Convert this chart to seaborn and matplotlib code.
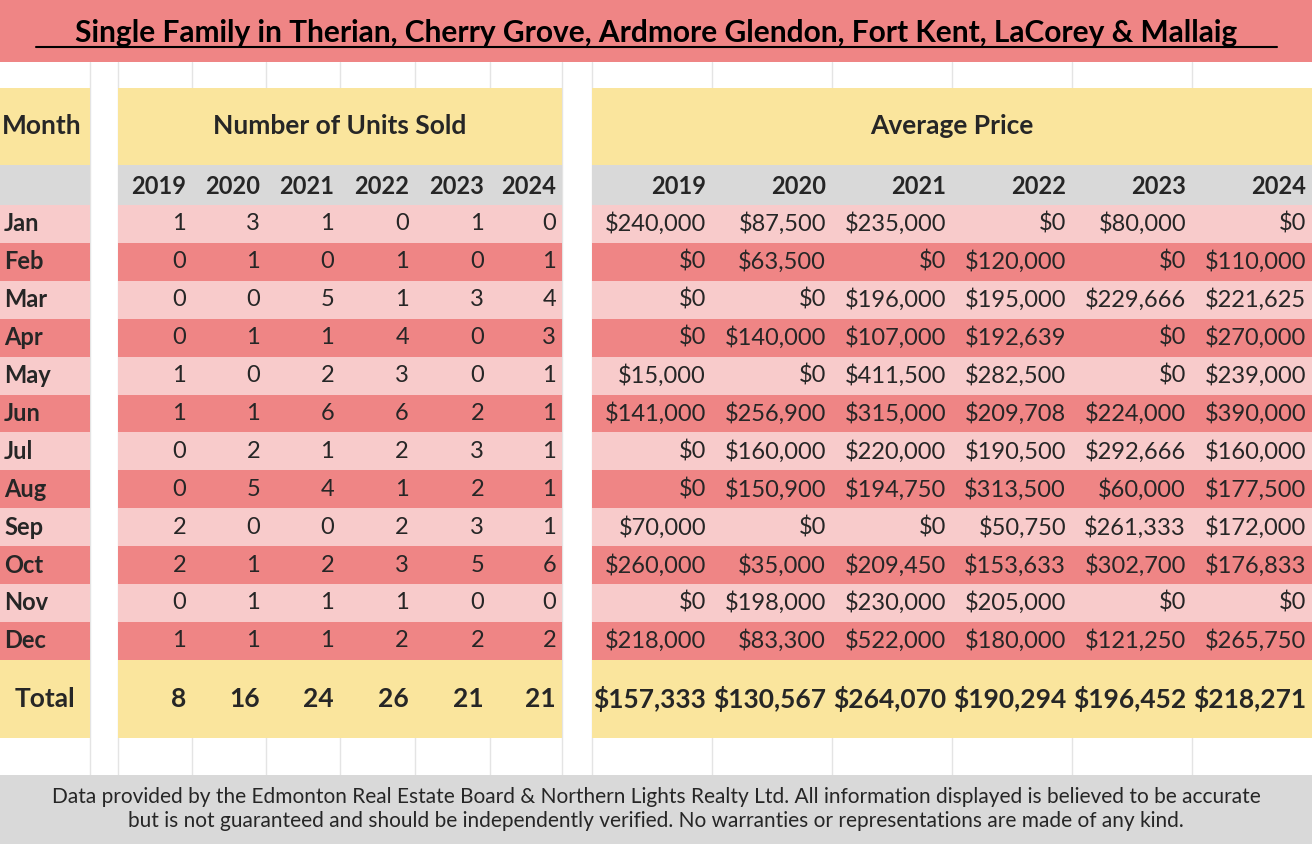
import matplotlib
matplotlib.use("Agg")
import matplotlib.pyplot as plt
from matplotlib.patches import Rectangle
import seaborn as sns

TITLE = "Single Family in Therian, Cherry Grove, Ardmore Glendon, Fort Kent, LaCorey & Mallaig"
MONTHS = ["Jan", "Feb", "Mar", "Apr", "May", "Jun", "Jul", "Aug", "Sep", "Oct", "Nov", "Dec"]
YEARS = ["2019", "2020", "2021", "2022", "2023", "2024"]
UNITS = [
    [1, 3, 1, 0, 1, 0],
    [0, 1, 0, 1, 0, 1],
    [0, 0, 5, 1, 3, 4],
    [0, 1, 1, 4, 0, 3],
    [1, 0, 2, 3, 0, 1],
    [1, 1, 6, 6, 2, 1],
    [0, 2, 1, 2, 3, 1],
    [0, 5, 4, 1, 2, 1],
    [2, 0, 0, 2, 3, 1],
    [2, 1, 2, 3, 5, 6],
    [0, 1, 1, 1, 0, 0],
    [1, 1, 1, 2, 2, 2],
]
PRICES = [
    [240000, 87500, 235000, 0, 80000, 0],
    [0, 63500, 0, 120000, 0, 110000],
    [0, 0, 196000, 195000, 229666, 221625],
    [0, 140000, 107000, 192639, 0, 270000],
    [15000, 0, 411500, 282500, 0, 239000],
    [141000, 256900, 315000, 209708, 224000, 390000],
    [0, 160000, 220000, 190500, 292666, 160000],
    [0, 150900, 194750, 313500, 60000, 177500],
    [70000, 0, 0, 50750, 261333, 172000],
    [260000, 35000, 209450, 153633, 302700, 176833],
    [0, 198000, 230000, 205000, 0, 0],
    [218000, 83300, 522000, 180000, 121250, 265750],
]
TOTAL_UNITS = [8, 16, 24, 26, 21, 21]
TOTAL_PRICES = [157333, 130567, 264070, 190294, 196452, 218271]
FOOTER = ("Data provided by the Edmonton Real Estate Board & Northern Lights Realty Ltd. All information displayed is believed to be accurate\n"
          "but is not guaranteed and should be independently verified. No warranties or representations are made of any kind.")

SALMON = "#EF8585"
PINK = "#F8CBCB"
YELLOW = "#FAE59D"
GRAY = "#D9D9D9"

sns.set_theme(style="white")
plt.rcParams["font.family"] = ["Lato", "DejaVu Sans"]

fig = plt.figure(figsize=(13.12, 8.44), dpi=100)
ax = fig.add_axes([0, 0, 1, 1])
ax.set_xlim(0, 1312)
ax.set_ylim(844, 0)
ax.axis("off")


def box(x0, y0, x1, y1, color):
    ax.add_patch(Rectangle((x0, y0), x1 - x0, y1 - y0, facecolor=color, edgecolor="none"))


unit_edges = [118, 192, 266, 340, 415, 490, 562]
price_edges = [592, 712, 832, 952, 1072, 1192, 1312]

# faint grid lines in the white gaps
for x in [90, 118] + unit_edges[1:] + price_edges[:-1]:
    ax.plot([x, x], [62, 775], color="#E4E4E4", lw=1, zorder=0)

box(0, 0, 1312, 62, SALMON)
ax.text(656, 33, TITLE, ha="center", va="center", fontsize=21.5, fontweight="bold", color="black")
ax.plot([36, 1277], [47, 47], color="black", lw=1.5)

row_top, row_h = 205, 37.9
for block in [(0, 90), (118, 562), (592, 1312)]:
    box(block[0], 88, block[1], 165, YELLOW)
    box(block[0], 165, block[1], 205, GRAY)
    for i in range(12):
        y0 = row_top + i * row_h
        box(block[0], y0, block[1], y0 + row_h, PINK if i % 2 == 0 else SALMON)
    box(block[0], 660, block[1], 738, YELLOW)
box(0, 775, 1312, 844, GRAY)

ax.text(2, 126, "Month", ha="left", va="center", fontsize=19, fontweight="bold")
ax.text(340, 126, "Number of Units Sold", ha="center", va="center", fontsize=19, fontweight="bold")
ax.text(952, 126, "Average Price", ha="center", va="center", fontsize=19, fontweight="bold")

for j, yr in enumerate(YEARS):
    ax.text(unit_edges[j + 1] - 6, 186, yr, ha="right", va="center", fontsize=17, fontweight="bold")
    ax.text(price_edges[j + 1] - 6, 186, yr, ha="right", va="center", fontsize=17, fontweight="bold")

for i, m in enumerate(MONTHS):
    yc = row_top + (i + 0.5) * row_h
    ax.text(4, yc, m, ha="left", va="center", fontsize=17, fontweight="bold")
    for j in range(6):
        ax.text(unit_edges[j + 1] - 6, yc, f"{UNITS[i][j]}", ha="right", va="center", fontsize=17)
        ax.text(price_edges[j + 1] - 6, yc, f"${PRICES[i][j]:,}", ha="right", va="center", fontsize=17)

ax.text(45, 699, "Total", ha="center", va="center", fontsize=19, fontweight="bold")
for j in range(6):
    ax.text(unit_edges[j + 1] - 6, 699, f"{TOTAL_UNITS[j]}", ha="right", va="center", fontsize=19, fontweight="bold")
    ax.text(price_edges[j + 1] - 6, 699, f"${TOTAL_PRICES[j]:,}", ha="right", va="center", fontsize=19, fontweight="bold")

ax.text(656, 809, FOOTER, ha="center", va="center", fontsize=15, linespacing=1.25)

fig.savefig("out.png", dpi=100)
